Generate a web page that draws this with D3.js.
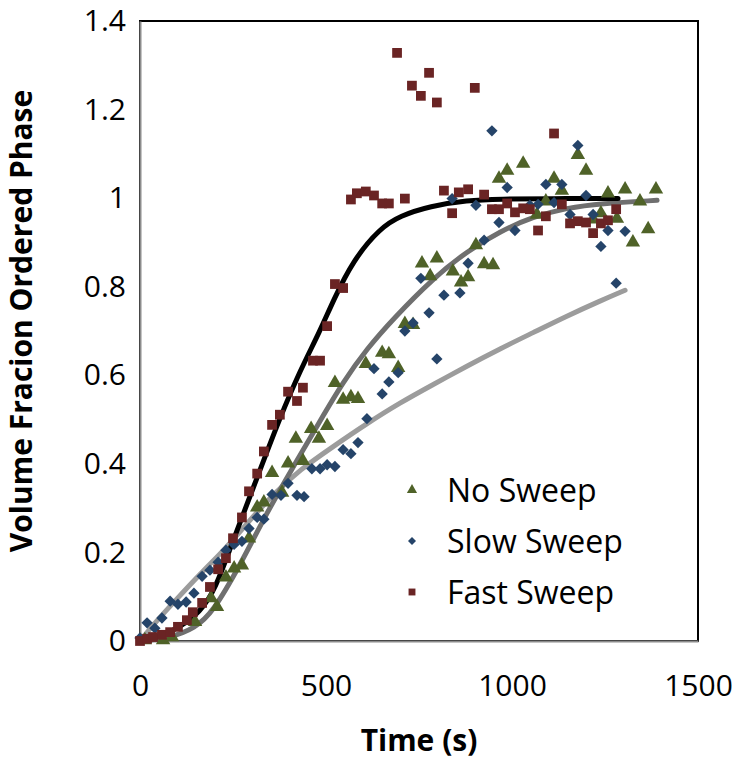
<!DOCTYPE html>
<meta charset="utf-8">
<style>
  body { margin: 0; background: #fff; }
  text { font-family: "Open Sans", sans-serif; fill: #000; }
</style>
<div id="chart"></div>
<script src="https://d3js.org/d3.v7.min.js"></script>
<script>

// series names (legend order)
var seriesNames = ["No Sweep", "Slow Sweep", "Fast Sweep"];

// No Sweep points
var noSweepT = [13, 62, 86, 148, 191, 207, 231, 253, 274, 293, 315, 333, 355, 382, 398, 419, 438, 460, 481, 503,
  524, 546, 567, 586, 607, 651, 669, 694, 712, 734, 758, 780, 798, 841, 863, 882, 903, 925, 949, 965,
  987, 1030, 1067, 1091, 1113, 1134, 1177, 1199, 1218, 1239, 1258, 1282, 1304, 1325, 1344, 1366, 1387];
var noSweepV = [0.002, 0.002, 0.009, 0.043, 0.097, 0.077, 0.144, 0.164, 0.171, 0.232, 0.302, 0.313, 0.380, 0.335, 0.401, 0.457, 0.407, 0.479, 0.457, 0.486,
  0.583, 0.545, 0.551, 0.547, 0.626, 0.651, 0.648, 0.617, 0.716, 0.714, 0.853, 0.824, 0.864, 0.835, 0.810, 0.822, 0.894, 0.851, 0.849, 1.044,
  1.062, 1.078, 0.963, 0.993, 1.044, 1.017, 1.098, 1.062, 0.952, 0.966, 1.011, 0.954, 1.020, 0.900, 0.993, 0.930, 1.020];

// Slow Sweep points
var slowSweepT = [0, 19, 40, 59, 81, 102, 124, 145, 167, 188, 210, 231, 253, 274, 293, 315, 333, 355, 379, 398,
  422, 441, 462, 484, 503, 524, 546, 567, 586, 610, 629, 651, 669, 694, 712, 734, 755, 777, 798, 817,
  839, 860, 882, 903, 925, 946, 965, 987, 1008, 1048, 1070, 1091, 1113, 1134, 1156, 1177, 1199, 1218, 1239, 1258, 1280, 1304];
var slowSweepV = [0.007, 0.041, 0.029, 0.052, 0.090, 0.083, 0.088, 0.108, 0.146, 0.160, 0.178, 0.205, 0.218, 0.225, 0.254, 0.279, 0.275, 0.331, 0.329, 0.356,
  0.329, 0.326, 0.389, 0.389, 0.398, 0.394, 0.432, 0.423, 0.448, 0.502, 0.615, 0.558, 0.585, 0.606, 0.700, 0.718, 0.819, 0.741, 0.637, 0.781,
  0.999, 0.786, 0.853, 0.984, 0.905, 1.152, 0.945, 1.024, 0.927, 0.984, 0.986, 1.031, 0.990, 1.031, 0.963, 1.119, 1.006, 0.963, 0.891, 0.927, 0.808, 0.925];

// Fast Sweep points
var fastSweepT = [0, 19, 35, 59, 81, 102, 126, 142, 167, 188, 210, 231, 250, 274, 293, 315, 333, 355, 376, 398,
  422, 438, 465, 484, 503, 524, 546, 567, 583, 607, 629, 651, 669, 691, 712, 731, 755, 777, 798, 817,
  839, 857, 882, 900, 925, 946, 965, 987, 1008, 1030, 1048, 1070, 1091, 1113, 1134, 1156, 1177, 1199, 1218, 1239, 1258, 1280];
var fastSweepV = [0, 0.005, 0.009, 0.014, 0.020, 0.032, 0.047, 0.065, 0.086, 0.122, 0.162, 0.187, 0.232, 0.279, 0.338, 0.378, 0.428, 0.488, 0.511, 0.563,
  0.542, 0.572, 0.633, 0.633, 0.711, 0.806, 0.797, 0.997, 1.011, 1.015, 1.006, 0.988, 0.988, 1.328, 0.999, 1.254, 1.231, 1.283, 1.216, 1.017,
  0.966, 1.013, 1.020, 1.249, 1.008, 0.975, 0.975, 0.988, 0.968, 0.977, 0.975, 0.927, 0.959, 1.146, 0.986, 0.943, 0.948, 0.945, 0.921, 0.943, 0.950, 0.975];

// fitted curves
var fastFitT = [0, 54, 108, 161, 202, 250, 315, 376, 430, 484, 519, 573, 645, 699, 780, 879, 968, 1102, 1285];
var fastFitV = [0, 0.009, 0.032, 0.065, 0.115, 0.227, 0.369, 0.504, 0.610, 0.700, 0.768, 0.860, 0.932, 0.960, 0.982, 0.995, 0.998, 0.999, 0.999];

var noFitT = [0, 81, 148, 196, 269, 341, 411, 484, 546, 610, 680, 788, 879, 968, 1056, 1148, 1237, 1390];
var noFitV = [0, 0.007, 0.029, 0.065, 0.171, 0.290, 0.392, 0.497, 0.585, 0.660, 0.727, 0.819, 0.880, 0.925, 0.958, 0.978, 0.988, 0.995];

var slowFitT = [0, 46, 99, 161, 234, 288, 358, 430, 519, 610, 699, 788, 879, 968, 1056, 1148, 1237, 1304];
var slowFitV = [0, 0.047, 0.095, 0.151, 0.212, 0.266, 0.331, 0.387, 0.439, 0.491, 0.538, 0.579, 0.621, 0.660, 0.696, 0.734, 0.768, 0.792];

var xTicks = [0, 500, 1000, 1500];
var yTicks = [0, 0.2, 0.4, 0.6, 0.8, 1, 1.2, 1.4];

var margin = {top: 21, right: 42, bottom: 120, left: 140},
    width = 740 - margin.left - margin.right,
    height = 761 - margin.top - margin.bottom;

var svg = d3.select("#chart")
  .append("svg")
    .attr("width", 740)
    .attr("height", 761)
  .append("g")
    .attr("transform", "translate(" + margin.left + "," + margin.top + ")");

var x = d3.scaleLinear().domain([0, 1500]).range([0, width]);
var y = d3.scaleLinear().domain([0, 1.4]).range([height, 0]);

// plot area border
svg.append("rect")
  .attr("width", width).attr("height", height)
  .attr("fill", "none").attr("stroke", "#000").attr("stroke-width", 2);

// x axis
var xAxis = svg.append("g")
  .attr("transform", "translate(0," + height + ")")
  .call(d3.axisBottom(x).tickValues(xTicks).tickSize(0).tickPadding(34).tickFormat(d3.format("d")));
xAxis.select(".domain").attr("stroke", "#8c8c8c").attr("stroke-width", 2);
xAxis.selectAll("text").style("font-size", "30px").attr("font-family", null);

// y axis
var yAxis = svg.append("g")
  .call(d3.axisLeft(y).tickValues(yTicks).tickSize(0).tickPadding(14).tickFormat(function(d) { return String(d); }));
yAxis.select(".domain").attr("stroke", "#8c8c8c").attr("stroke-width", 2);
yAxis.selectAll("text").style("font-size", "30px").attr("font-family", null);

// axis titles
svg.append("text")
  .attr("x", width / 2).attr("y", height + 110)
  .attr("text-anchor", "middle")
  .style("font-size", "30px").style("font-weight", "bold")
  .text("Time (s)");

svg.append("text")
  .attr("transform", "translate(-108," + (height / 2 - 10) + ")rotate(-90)")
  .attr("text-anchor", "middle")
  .style("font-size", "30px").style("font-weight", "bold")
  .text("Volume Fracion Ordered Phase");

// fitted curves
var line = d3.line()
  .x(function(d) { return x(d[0]); })
  .y(function(d) { return y(d[1]); })
  .curve(d3.curveBasis);

var fits = [
  {t: slowFitT, v: slowFitV, color: "#9c9c9c"},
  {t: noFitT, v: noFitV, color: "#6f6f6f"},
  {t: fastFitT, v: fastFitV, color: "#000000"}
];

fits.forEach(function(f) {
  svg.append("path")
    .datum(d3.zip(f.t, f.v))
    .attr("d", line)
    .attr("fill", "none")
    .attr("stroke", f.color)
    .attr("stroke-width", 5)
    .attr("stroke-linecap", "round");
});

// markers (diamond = square turned 45 degrees)
var series = [
  {t: noSweepT, v: noSweepV, symbol: d3.symbolTriangle, size: 90, rot: 0, color: "#4f6228"},
  {t: slowSweepT, v: slowSweepV, symbol: d3.symbolSquare, size: 64, rot: 45, color: "#254469"},
  {t: fastSweepT, v: fastSweepV, symbol: d3.symbolSquare, size: 95, rot: 0, color: "#6a2424"}
];

series.forEach(function(s) {
  svg.append("g")
    .selectAll("path")
    .data(d3.zip(s.t, s.v))
    .enter()
    .append("path")
      .attr("d", d3.symbol().type(s.symbol).size(s.size))
      .attr("transform", function(d) { return "translate(" + x(d[0]) + "," + y(d[1]) + ")rotate(" + s.rot + ")"; })
      .attr("fill", s.color);
});

// legend
var legend = svg.append("g").attr("transform", "translate(272,469)");
series.forEach(function(s, i) {
  var g = legend.append("g").attr("transform", "translate(0," + (i * 51) + ")");
  g.append("path")
    .attr("d", d3.symbol().type(s.symbol).size(s.size * 0.5))
    .attr("transform", "rotate(" + s.rot + ")")
    .attr("fill", s.color);
  g.append("text")
    .attr("x", 35).attr("y", 12)
    .style("font-size", "32px")
    .text(seriesNames[i]);
});

</script>
